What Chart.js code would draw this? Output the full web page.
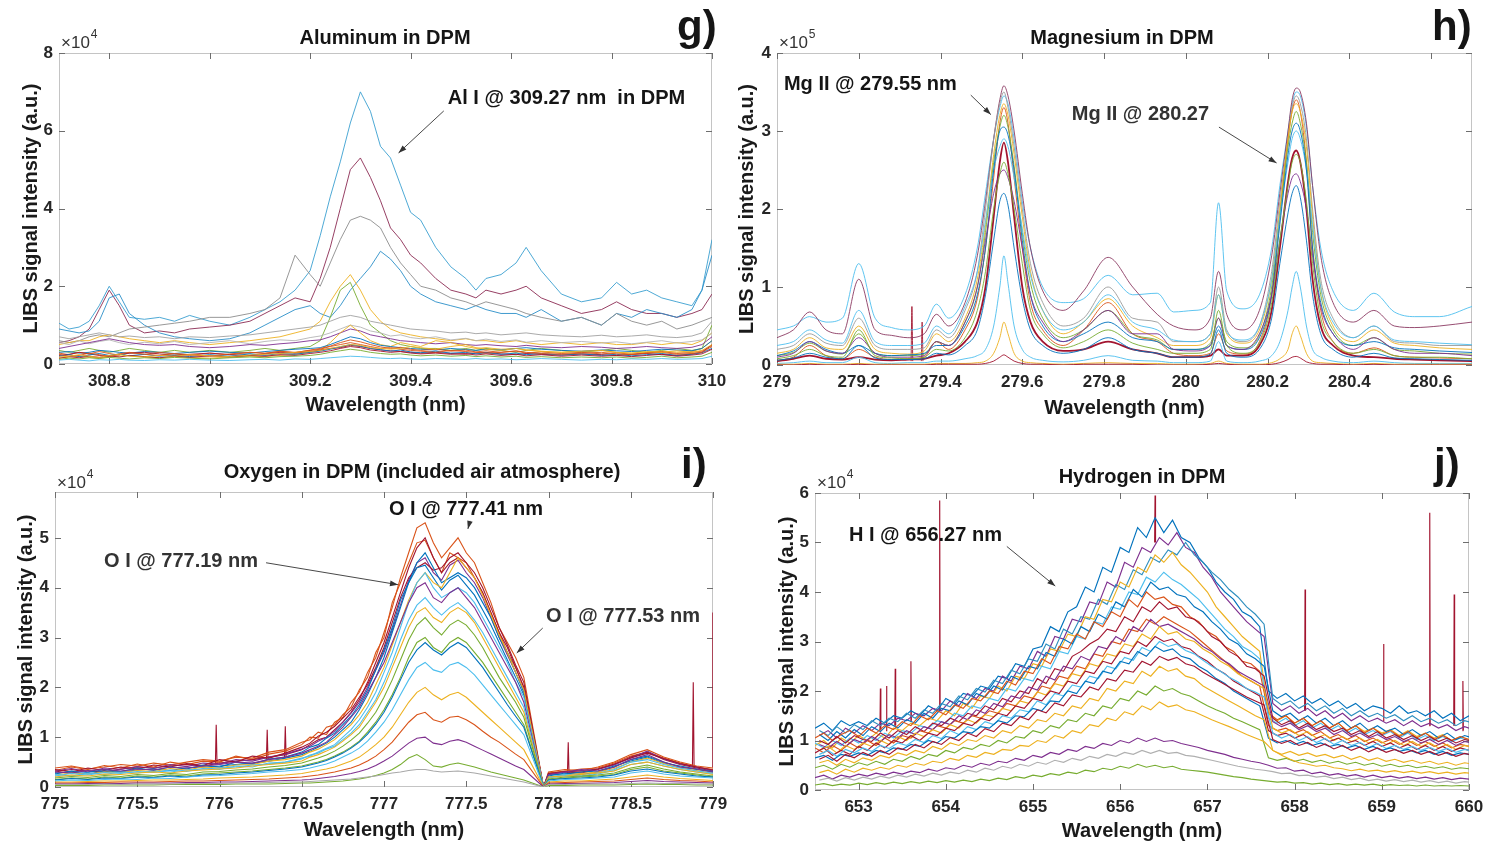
<!DOCTYPE html>
<html>
<head>
<meta charset="utf-8">
<script src="https://cdn.jsdelivr.net/npm/chart.js@4.4.1/dist/chart.umd.min.js"></script>
<style>
  html, body { margin: 0; padding: 0; background: #fff; }
  #fig { position: relative; width: 1499px; height: 843px; overflow: hidden; background: #fff; }
  #fig canvas { position: absolute; }
</style>
</head>
<body>
<div id="fig">
  <canvas id="cg" width="740" height="430" style="left:0;top:0"></canvas>
  <canvas id="ch" width="779" height="430" style="left:720px;top:0"></canvas>
  <canvas id="ci" width="740" height="413" style="left:0;top:430px"></canvas>
  <canvas id="cj" width="759" height="413" style="left:740px;top:430px"></canvas>
</div>
<script>
// all intensities are in the units shown by the axis multiplier (x10^4 or x10^5)

// ---- g) Aluminum in DPM ----
const gWave = [308.70,308.72,308.74,308.76,308.78,308.80,308.82,308.84,308.87,308.90,
  308.93,308.96,309.00,309.04,309.08,309.11,309.14,309.17,309.20,309.22,
  309.24,309.26,309.28,309.30,309.32,309.34,309.36,309.38,309.40,309.42,
  309.45,309.48,309.51,309.53,309.55,309.58,309.61,309.63,309.66,309.70,
  309.74,309.78,309.81,309.84,309.87,309.90,309.93,309.96,309.98,310.00];
const gTop = [1.05,0.9,0.95,1.1,1.5,2.0,1.6,1.2,1.15,1.2,
  1.1,1.25,1.1,1.0,1.2,1.4,1.6,1.9,2.4,3.3,
  4.3,5.2,6.2,7.0,6.5,5.6,5.3,4.6,3.9,3.7,
  3.0,2.5,2.2,1.9,2.2,2.3,2.6,3.0,2.4,1.8,
  1.6,1.7,2.1,1.8,1.9,1.7,1.6,1.5,1.9,3.2];
const gSecond = [0.55,0.6,0.7,0.9,1.4,1.9,1.5,1.0,0.8,0.85,
  0.8,0.9,0.95,1.0,1.1,1.3,1.5,1.7,1.6,2.2,
  3.0,4.0,5.0,5.3,4.8,4.2,3.5,3.2,2.8,2.6,
  2.2,1.9,1.8,1.7,1.9,1.8,1.9,2.0,1.7,1.5,
  1.3,1.4,1.6,1.4,1.3,1.3,1.2,1.3,1.4,1.8];
const gThird = [0.6,0.55,0.6,0.7,0.75,0.7,0.8,0.9,0.95,1.0,
  1.05,1.1,1.2,1.2,1.3,1.4,1.7,2.8,2.3,2.0,
  2.6,3.2,3.7,3.8,3.7,3.5,3.0,2.6,2.3,2.0,
  1.9,1.7,1.6,1.5,1.6,1.5,1.4,1.3,1.2,1.1,
  1.2,1.0,1.3,1.1,1.0,1.1,0.9,1.0,1.1,1.2];
const gFourth = [0.9,0.85,0.8,0.85,1.1,1.7,1.8,1.3,1.0,0.8,
  0.7,0.65,0.6,0.65,0.8,1.0,1.2,1.4,1.5,1.3,
  1.2,1.5,1.9,2.2,2.5,2.9,2.7,2.4,2.0,1.8,
  1.6,1.5,1.4,1.5,1.4,1.3,1.3,1.2,1.4,1.1,
  1.2,1.0,1.3,1.2,1.4,1.3,1.2,1.4,1.9,2.8];
const gNarrowA = [0.5,0.55,0.6,0.6,0.7,0.75,0.7,0.65,0.6,0.55,
  0.6,0.55,0.5,0.55,0.6,0.65,0.7,0.8,0.9,1.1,
  1.6,2.0,2.3,1.9,1.4,1.1,0.9,0.8,0.75,0.7,
  0.65,0.6,0.65,0.6,0.6,0.55,0.6,0.55,0.5,0.55,
  0.5,0.55,0.5,0.5,0.55,0.5,0.55,0.5,0.6,0.8];
const gNarrowB = [0.35,0.3,0.35,0.4,0.35,0.3,0.35,0.4,0.35,0.3,
  0.35,0.3,0.35,0.3,0.35,0.4,0.35,0.4,0.45,0.6,
  1.2,1.9,2.1,1.5,1.0,0.8,0.6,0.5,0.45,0.4,
  0.4,0.35,0.4,0.35,0.4,0.35,0.3,0.35,0.4,0.35,
  0.3,0.35,0.4,0.35,0.3,0.35,0.4,0.35,0.4,1.0];
const gMid = [0.7,0.65,0.7,0.75,0.8,0.75,0.7,0.72,0.68,0.7,
  0.65,0.7,0.68,0.72,0.75,0.8,0.85,0.9,0.95,1.0,
  1.1,1.2,1.25,1.2,1.1,1.05,1.0,0.95,0.9,0.88,
  0.85,0.8,0.82,0.78,0.8,0.75,0.78,0.8,0.75,0.72,
  0.7,0.74,0.7,0.72,0.75,0.7,0.68,0.72,0.8,1.1];
const gLowA = [0.25,0.2,0.22,0.28,0.24,0.2,0.26,0.3,0.25,0.22,
  0.27,0.24,0.2,0.26,0.3,0.28,0.32,0.3,0.35,0.38,
  0.45,0.5,0.55,0.5,0.45,0.4,0.42,0.38,0.35,0.33,
  0.3,0.35,0.32,0.3,0.28,0.3,0.34,0.3,0.27,0.25,
  0.28,0.3,0.26,0.24,0.28,0.3,0.25,0.27,0.3,0.45];
const gLowB = [0.3,0.32,0.28,0.3,0.35,0.33,0.3,0.28,0.32,0.3,
  0.27,0.3,0.33,0.3,0.28,0.32,0.35,0.38,0.4,0.42,
  0.5,0.6,0.7,0.65,0.55,0.48,0.45,0.42,0.4,0.38,
  0.36,0.4,0.37,0.35,0.38,0.36,0.4,0.42,0.38,0.35,
  0.33,0.36,0.34,0.32,0.35,0.38,0.36,0.34,0.4,0.6];
const gLowC = [0.18,0.2,0.24,0.2,0.17,0.22,0.25,0.2,0.18,0.22,
  0.2,0.24,0.21,0.19,0.23,0.25,0.27,0.3,0.32,0.35,
  0.4,0.45,0.5,0.48,0.42,0.4,0.38,0.4,0.45,0.42,
  0.38,0.45,0.5,0.42,0.38,0.35,0.4,0.36,0.32,0.3,
  0.33,0.35,0.3,0.28,0.32,0.3,0.34,0.3,0.35,0.5];
const gLowD = [0.4,0.45,0.5,0.55,0.6,0.65,0.6,0.55,0.5,0.48,
  0.5,0.45,0.42,0.45,0.5,0.48,0.52,0.55,0.6,0.62,
  0.7,0.8,0.9,0.85,0.75,0.7,0.65,0.6,0.58,0.55,
  0.52,0.55,0.5,0.48,0.5,0.47,0.45,0.48,0.44,0.42,
  0.45,0.43,0.4,0.42,0.45,0.42,0.4,0.43,0.5,0.7];
const gLowE = [0.1,0.12,0.1,0.08,0.11,0.1,0.12,0.1,0.09,0.11,
  0.1,0.12,0.1,0.09,0.11,0.12,0.1,0.13,0.12,0.14,
  0.16,0.18,0.2,0.19,0.17,0.15,0.14,0.15,0.13,0.12,
  0.14,0.13,0.12,0.14,0.12,0.13,0.11,0.12,0.14,0.12,
  0.1,0.12,0.11,0.13,0.12,0.14,0.12,0.13,0.14,0.2];
const gLowF = [0.22,0.25,0.3,0.26,0.22,0.2,0.24,0.28,0.3,0.26,
  0.22,0.25,0.28,0.24,0.22,0.26,0.3,0.28,0.32,0.36,
  0.4,0.42,0.48,0.45,0.4,0.36,0.34,0.32,0.3,0.28,
  0.3,0.27,0.25,0.28,0.3,0.26,0.24,0.27,0.25,0.23,
  0.26,0.24,0.22,0.25,0.27,0.24,0.22,0.26,0.3,0.5];
const gLowG = [0.15,0.18,0.2,0.17,0.15,0.18,0.2,0.22,0.18,0.16,
  0.19,0.17,0.15,0.18,0.2,0.19,0.22,0.25,0.3,0.35,
  0.55,0.8,1.0,0.8,0.6,0.5,0.45,0.55,0.5,0.45,
  0.6,0.55,0.45,0.4,0.42,0.38,0.4,0.36,0.33,0.3,
  0.32,0.35,0.3,0.28,0.3,0.33,0.3,0.32,0.4,0.6];
const gLowH = [0.2,0.24,0.19,0.23,0.27,0.22,0.26,0.21,0.25,0.2,
  0.23,0.19,0.24,0.2,0.26,0.22,0.27,0.25,0.3,0.33,
  0.38,0.44,0.5,0.46,0.4,0.37,0.33,0.36,0.31,0.29,
  0.33,0.28,0.3,0.26,0.29,0.25,0.28,0.24,0.27,0.23,
  0.26,0.22,0.25,0.21,0.24,0.27,0.22,0.25,0.29,0.4];
const gLowI = [0.28,0.24,0.3,0.26,0.32,0.27,0.23,0.29,0.25,0.3,
  0.26,0.22,0.28,0.24,0.3,0.27,0.33,0.29,0.36,0.4,
  0.46,0.55,0.62,0.57,0.5,0.44,0.4,0.43,0.38,0.35,
  0.38,0.33,0.36,0.31,0.34,0.3,0.33,0.28,0.31,0.27,
  0.3,0.26,0.29,0.25,0.28,0.32,0.27,0.3,0.33,0.48];
const gLowJ = [0.15,0.19,0.16,0.2,0.17,0.21,0.18,0.22,0.19,0.16,
  0.2,0.17,0.21,0.18,0.22,0.2,0.24,0.22,0.27,0.3,
  0.34,0.4,0.45,0.42,0.36,0.33,0.3,0.32,0.28,0.26,
  0.28,0.25,0.27,0.23,0.26,0.22,0.25,0.21,0.24,0.2,
  0.23,0.2,0.22,0.19,0.22,0.25,0.2,0.23,0.26,0.38];
const gLowK = [0.55,0.5,0.6,0.52,0.58,0.62,0.55,0.5,0.56,0.52,
  0.58,0.5,0.55,0.6,0.52,0.58,0.62,0.6,0.68,0.72,
  0.8,0.9,1.0,0.95,0.85,0.8,0.72,0.75,0.68,0.65,
  0.7,0.62,0.66,0.6,0.64,0.58,0.62,0.56,0.6,0.55,
  0.58,0.54,0.57,0.52,0.56,0.6,0.54,0.58,0.62,0.8];
const gLowL = [0.12,0.15,0.13,0.16,0.14,0.17,0.15,0.13,0.16,0.14,
  0.17,0.15,0.13,0.16,0.18,0.16,0.19,0.2,0.22,0.25,
  0.3,0.34,0.38,0.35,0.3,0.27,0.25,0.26,0.23,0.21,
  0.23,0.2,0.22,0.19,0.21,0.18,0.2,0.17,0.19,0.16,
  0.18,0.16,0.18,0.15,0.17,0.2,0.16,0.18,0.2,0.3];
const gXTicks = [308.8, 309, 309.2, 309.4, 309.6, 309.8, 310];
const gYTicks = [0, 2, 4, 6, 8];

// ---- h) Magnesium in DPM ----
const hWave = [279.00,279.04,279.08,279.12,279.16,279.20,279.24,279.28,279.32,279.36,
  279.39,279.42,279.46,279.49,279.51,279.53,279.545,279.555,279.565,279.58,
  279.60,279.62,279.65,279.70,279.75,279.81,279.87,279.93,279.97,280.02,
  280.06,280.08,280.10,280.14,280.18,280.21,280.23,280.25,280.26,280.27,
  280.28,280.295,280.31,280.33,280.36,280.41,280.46,280.51,280.56,280.62,
  280.70];
const hHighBase = [0.45,0.5,0.62,0.55,0.6,1.3,0.6,0.48,0.45,0.5,
  0.78,0.6,0.9,1.5,2.2,2.9,3.3,3.45,3.35,2.9,
  2.1,1.5,1.0,0.8,0.85,1.15,0.9,0.92,0.68,0.7,
  0.8,2.08,0.95,0.72,0.9,1.5,2.3,3.0,3.35,3.5,
  3.45,3.05,2.3,1.5,0.95,0.7,0.92,0.68,0.62,0.62,
  0.75];
const hSecondBase = [0.35,0.45,0.68,0.45,0.4,1.1,0.45,0.38,0.35,0.4,
  0.65,0.5,0.8,1.4,2.1,2.9,3.4,3.58,3.45,3.0,
  2.2,1.5,0.95,0.7,0.95,1.38,1.0,0.65,0.5,0.45,
  0.6,1.2,0.65,0.45,0.7,1.4,2.2,3.0,3.4,3.55,
  3.5,3.1,2.3,1.4,0.8,0.55,0.7,0.5,0.48,0.5,
  0.55];
const hCore = [0.05,0.08,0.12,0.08,0.07,0.1,0.07,0.06,0.07,0.08,
  0.12,0.15,0.3,0.55,1.0,1.9,2.6,2.85,2.6,1.9,
  1.0,0.55,0.3,0.18,0.2,0.3,0.2,0.15,0.1,0.1,
  0.12,0.2,0.12,0.12,0.25,0.7,1.5,2.35,2.65,2.75,
  2.6,2.0,1.1,0.5,0.25,0.12,0.1,0.08,0.07,0.06,
  0.05];
const hBlue = [0.12,0.18,0.3,0.2,0.15,0.25,0.15,0.12,0.13,0.15,
  0.25,0.25,0.5,0.9,1.5,2.5,3.0,3.05,2.95,2.5,
  1.6,0.9,0.5,0.3,0.4,0.55,0.35,0.3,0.2,0.2,
  0.25,0.5,0.25,0.2,0.35,0.9,1.8,2.7,3.0,3.1,
  3.0,2.5,1.5,0.8,0.4,0.25,0.3,0.22,0.2,0.18,
  0.16];
const hYellow = [0.15,0.2,0.35,0.22,0.2,0.5,0.2,0.15,0.14,0.18,
  0.4,0.3,0.6,1.1,1.8,2.7,3.2,3.35,3.2,2.7,
  1.9,1.2,0.7,0.4,0.55,0.85,0.5,0.35,0.25,0.25,
  0.35,0.9,0.4,0.28,0.45,1.1,2.0,2.9,3.25,3.35,
  3.25,2.8,1.9,1.0,0.5,0.3,0.45,0.28,0.25,0.22,
  0.2];
const hGreen = [0.08,0.12,0.2,0.12,0.1,0.45,0.12,0.09,0.08,0.1,
  0.2,0.18,0.35,0.7,1.2,2.0,2.45,2.6,2.45,2.0,
  1.3,0.7,0.4,0.22,0.3,0.45,0.28,0.2,0.15,0.15,
  0.2,0.7,0.25,0.15,0.28,0.8,1.6,2.3,2.6,2.7,
  2.6,2.1,1.3,0.6,0.3,0.15,0.2,0.12,0.1,0.1,
  0.08];
const hOrange = [0.06,0.1,0.25,0.12,0.08,0.2,0.1,0.07,0.08,0.1,
  0.3,0.2,0.45,0.85,1.5,2.4,3.1,3.3,3.1,2.4,
  1.5,0.8,0.45,0.25,0.45,0.8,0.4,0.3,0.15,0.12,
  0.15,0.4,0.18,0.14,0.3,0.9,1.9,2.9,3.25,3.4,
  3.25,2.6,1.5,0.7,0.3,0.15,0.22,0.12,0.1,0.09,
  0.08];
const hNarrowCyan = [0.02,0.03,0.05,0.03,0.03,0.1,0.03,0.02,0.03,0.03,
  0.05,0.05,0.08,0.12,0.2,0.5,1.0,1.4,1.05,0.5,
  0.2,0.1,0.06,0.04,0.06,0.12,0.06,0.05,0.03,0.03,
  0.05,0.3,0.05,0.03,0.05,0.12,0.3,0.7,1.0,1.2,
  1.0,0.5,0.2,0.1,0.05,0.03,0.05,0.03,0.02,0.02,
  0.02];
const hNarrowYellow = [0.01,0.01,0.02,0.01,0.01,0.02,0.01,0.01,0.01,0.01,
  0.02,0.02,0.02,0.03,0.05,0.15,0.35,0.55,0.4,0.15,
  0.05,0.03,0.02,0.01,0.02,0.03,0.02,0.02,0.01,0.01,
  0.02,0.05,0.02,0.01,0.01,0.03,0.08,0.2,0.4,0.5,
  0.38,0.15,0.05,0.03,0.02,0.01,0.02,0.01,0.01,0.01,
  0.01];
const hNarrowBrown = [0,0,0.01,0,0,0.01,0,0,0,0,
  0.01,0.01,0.01,0.01,0.02,0.05,0.1,0.13,0.1,0.05,
  0.02,0.01,0.01,0,0.01,0.01,0.01,0,0,0,
  0.01,0.02,0.01,0,0,0.01,0.03,0.07,0.1,0.11,
  0.09,0.04,0.02,0.01,0.01,0,0.01,0,0,0,
  0];
const hPurple = [0.1,0.15,0.3,0.18,0.15,0.35,0.15,0.1,0.1,0.12,
  0.3,0.25,0.55,1.0,1.6,2.2,2.45,2.5,2.4,2.1,
  1.5,0.9,0.55,0.3,0.45,0.7,0.4,0.4,0.2,0.18,
  0.25,0.6,0.25,0.2,0.4,0.9,1.6,2.2,2.4,2.45,
  2.35,2.0,1.4,0.75,0.4,0.2,0.35,0.2,0.15,0.15,
  0.12];
const hGray = [0.2,0.25,0.4,0.28,0.25,0.6,0.25,0.2,0.2,0.22,
  0.45,0.35,0.7,1.2,2.0,2.9,3.35,3.5,3.3,2.8,
  2.0,1.3,0.8,0.5,0.6,1.0,0.6,0.55,0.3,0.3,
  0.4,1.0,0.45,0.3,0.5,1.2,2.1,2.9,3.3,3.45,
  3.35,2.9,2.0,1.1,0.6,0.35,0.5,0.3,0.28,0.25,
  0.25];
const hExtraGreen = [0.12,0.16,0.28,0.18,0.14,0.4,0.15,0.12,0.12,0.14,
  0.3,0.25,0.55,1.0,1.7,2.6,3.05,3.2,3.05,2.55,
  1.7,1.05,0.6,0.35,0.45,0.7,0.4,0.32,0.2,0.2,
  0.28,0.6,0.3,0.22,0.38,1.0,1.9,2.8,3.1,3.25,
  3.1,2.6,1.7,0.9,0.45,0.25,0.35,0.2,0.18,0.15,
  0.14];
const hExtraCyan = [0.25,0.3,0.45,0.32,0.28,0.7,0.3,0.25,0.25,0.28,
  0.5,0.4,0.75,1.2,1.85,2.5,2.8,2.9,2.8,2.4,
  1.75,1.15,0.7,0.45,0.55,0.9,0.55,0.45,0.32,0.3,
  0.4,0.9,0.42,0.32,0.5,1.1,1.9,2.6,2.9,3.0,
  2.9,2.5,1.8,1.0,0.55,0.35,0.5,0.32,0.3,0.28,
  0.26];
const hExtraBlue = [0.06,0.09,0.15,0.1,0.08,0.25,0.09,0.07,0.07,0.08,
  0.15,0.13,0.25,0.45,0.9,1.6,2.1,2.2,2.05,1.5,
  0.85,0.45,0.25,0.15,0.2,0.35,0.2,0.15,0.1,0.1,
  0.14,0.45,0.15,0.1,0.2,0.6,1.3,1.95,2.2,2.3,
  2.15,1.6,0.9,0.4,0.2,0.1,0.15,0.09,0.08,0.07,
  0.06];
const hSpikeWave = [279.328,279.33,279.332,279.334,279.353,279.355,279.357];
const hSpikeVal = [0.05,0.75,0.05,null,0.05,0.55,0.05];
const hXTicks = [279, 279.2, 279.4, 279.6, 279.8, 280, 280.2, 280.4, 280.6];
const hYTicks = [0, 1, 2, 3, 4];

// ---- i) Oxygen in DPM ----
const iWave = [775.0,775.1,775.2,775.3,775.4,775.5,775.6,775.7,775.8,775.9,
  776.0,776.1,776.2,776.3,776.4,776.5,776.55,776.6,776.65,776.7,
  776.75,776.8,776.85,776.9,776.95,777.0,777.05,777.1,777.15,777.2,
  777.25,777.3,777.35,777.4,777.45,777.5,777.55,777.6,777.65,777.7,
  777.75,777.8,777.85,777.97,778.0,778.1,778.2,778.3,778.4,778.5,
  778.6,778.7,778.8,778.9,779.0];
const iRed = [0.38,0.42,0.36,0.4,0.45,0.42,0.48,0.44,0.5,0.55,
  0.52,0.6,0.58,0.7,0.75,0.9,0.95,1.1,1.05,1.3,
  1.4,1.7,1.9,2.3,2.6,3.1,3.6,4.2,4.7,5.2,
  5.3,4.9,4.6,4.8,5.0,4.7,4.5,4.1,3.7,3.2,
  2.9,2.6,2.2,0,0.3,0.35,0.32,0.4,0.5,0.65,
  0.75,0.6,0.5,0.42,0.38];
const iDarkRed = [0.3,0.35,0.32,0.3,0.36,0.4,0.38,0.42,0.45,0.42,
  0.48,0.52,0.55,0.6,0.65,0.75,0.85,0.95,1.0,1.15,
  1.3,1.5,1.75,2.1,2.5,2.9,3.4,3.9,4.4,4.8,
  5.0,4.6,4.3,4.5,4.6,4.4,4.2,3.9,3.5,3.1,
  2.8,2.4,2.0,0,0.25,0.3,0.28,0.35,0.45,0.6,
  0.7,0.55,0.45,0.38,0.32];
const iBlue = [0.28,0.3,0.26,0.32,0.3,0.34,0.36,0.33,0.38,0.4,
  0.42,0.45,0.48,0.52,0.58,0.65,0.72,0.8,0.88,1.0,
  1.15,1.3,1.55,1.85,2.2,2.6,3.1,3.6,4.1,4.5,
  4.7,4.4,4.1,4.2,4.3,4.2,4.0,3.7,3.4,3.0,
  2.7,2.3,1.9,0,0.22,0.28,0.25,0.3,0.4,0.55,
  0.62,0.5,0.4,0.35,0.3];
const iCyan = [0.25,0.22,0.28,0.25,0.3,0.28,0.32,0.3,0.34,0.36,
  0.38,0.4,0.44,0.46,0.5,0.58,0.62,0.7,0.78,0.85,
  1.0,1.15,1.35,1.6,1.9,2.3,2.7,3.2,3.7,4.1,
  4.3,4.0,3.8,3.9,4.0,3.9,3.7,3.4,3.1,2.8,
  2.5,2.1,1.8,0,0.2,0.25,0.22,0.28,0.35,0.5,
  0.55,0.45,0.38,0.32,0.28];
const iPurple = [0.3,0.28,0.33,0.35,0.32,0.36,0.34,0.4,0.38,0.42,
  0.45,0.5,0.48,0.55,0.6,0.68,0.75,0.82,0.9,1.05,
  1.2,1.4,1.6,1.9,2.2,2.5,2.9,3.3,3.7,4.0,
  4.1,3.8,3.7,3.9,4.0,3.8,3.6,3.3,3.0,2.7,
  2.4,2.1,1.7,0,0.25,0.3,0.35,0.32,0.4,0.55,
  0.65,0.5,0.4,0.36,0.3];
const iYellow = [0.2,0.24,0.22,0.26,0.25,0.28,0.3,0.28,0.32,0.34,
  0.36,0.38,0.42,0.45,0.48,0.52,0.6,0.65,0.72,0.8,
  0.92,1.05,1.2,1.45,1.7,2.0,2.4,2.8,3.2,3.5,
  3.6,3.4,3.3,3.5,3.6,3.5,3.3,3.0,2.7,2.4,
  2.1,1.8,1.5,0,0.2,0.22,0.25,0.28,0.32,0.45,
  0.5,0.42,0.35,0.3,0.25];
const iGreen = [0.15,0.18,0.16,0.2,0.18,0.22,0.2,0.24,0.22,0.26,
  0.28,0.3,0.32,0.35,0.38,0.42,0.46,0.5,0.55,0.62,
  0.7,0.8,0.92,1.1,1.3,1.55,1.85,2.2,2.6,2.9,
  3.0,2.8,2.7,2.9,3.0,2.9,2.7,2.5,2.25,2.0,
  1.75,1.5,1.25,0,0.15,0.18,0.2,0.22,0.25,0.35,
  0.4,0.32,0.28,0.24,0.2];
const iLightBlue = [0.12,0.14,0.13,0.15,0.16,0.15,0.18,0.17,0.2,0.22,
  0.23,0.25,0.27,0.3,0.32,0.35,0.38,0.42,0.46,0.52,
  0.6,0.68,0.78,0.92,1.1,1.3,1.55,1.85,2.15,2.4,
  2.5,2.35,2.3,2.45,2.5,2.4,2.25,2.05,1.85,1.65,
  1.45,1.25,1.05,0,0.12,0.15,0.16,0.18,0.2,0.28,
  0.32,0.26,0.22,0.2,0.18];
const iPaleYellow = [0.1,0.1,0.11,0.12,0.12,0.13,0.14,0.14,0.15,0.16,
  0.18,0.19,0.2,0.22,0.24,0.27,0.3,0.33,0.36,0.4,
  0.46,0.52,0.6,0.72,0.85,1.0,1.2,1.45,1.7,1.9,
  2.0,1.85,1.75,1.85,1.9,1.8,1.65,1.5,1.35,1.2,
  1.05,0.9,0.75,0,0.1,0.12,0.12,0.14,0.16,0.2,
  0.24,0.2,0.17,0.15,0.13];
const iLowOrange = [0.08,0.08,0.09,0.09,0.1,0.1,0.1,0.11,0.12,0.12,
  0.13,0.14,0.15,0.16,0.18,0.2,0.22,0.24,0.27,0.3,
  0.34,0.38,0.44,0.52,0.62,0.75,0.9,1.1,1.3,1.45,
  1.5,1.35,1.3,1.4,1.42,1.35,1.25,1.12,1.0,0.9,
  0.78,0.66,0.55,0,0.08,0.09,0.1,0.11,0.12,0.15,
  0.18,0.15,0.13,0.12,0.1];
const iLowPurple = [0.06,0.06,0.07,0.07,0.07,0.08,0.08,0.08,0.09,0.09,
  0.1,0.1,0.11,0.12,0.13,0.14,0.15,0.17,0.19,0.21,
  0.24,0.27,0.31,0.36,0.43,0.52,0.62,0.75,0.88,0.98,
  1.0,0.88,0.85,0.92,0.95,0.9,0.82,0.74,0.66,0.58,
  0.5,0.42,0.35,0,0.06,0.07,0.07,0.08,0.09,0.11,
  0.13,0.11,0.1,0.09,0.08];
const iLowGreen = [0.03,0.03,0.03,0.04,0.04,0.04,0.04,0.05,0.05,0.05,
  0.05,0.06,0.06,0.06,0.07,0.08,0.08,0.09,0.1,0.11,
  0.12,0.14,0.16,0.19,0.23,0.28,0.35,0.45,0.58,0.65,
  0.55,0.42,0.4,0.45,0.48,0.44,0.4,0.35,0.3,0.26,
  0.22,0.18,0.14,0,0.03,0.03,0.04,0.04,0.04,0.05,
  0.06,0.05,0.05,0.04,0.04];
const iLowGray = [0.05,0.05,0.05,0.06,0.05,0.06,0.06,0.06,0.07,0.07,
  0.07,0.08,0.08,0.09,0.1,0.1,0.11,0.12,0.13,0.14,
  0.15,0.16,0.18,0.2,0.22,0.25,0.28,0.3,0.33,0.35,
  0.35,0.32,0.3,0.31,0.32,0.3,0.28,0.25,0.22,0.19,
  0.16,0.13,0.1,0,0.05,0.05,0.06,0.06,0.06,0.07,
  0.08,0.07,0.07,0.06,0.06];
const iBandOrange = [0.33,0.4,0.35,0.43,0.38,0.46,0.4,0.5,0.45,0.52,
  0.5,0.62,0.55,0.66,0.72,0.85,1.0,0.98,1.2,1.25,
  1.45,1.6,1.95,2.2,2.7,3.0,3.7,4.1,4.5,4.9,
  4.95,4.6,4.3,4.7,4.6,4.5,4.2,3.9,3.5,3.1,
  2.7,2.4,2.0,0,0.28,0.32,0.36,0.38,0.48,0.62,
  0.7,0.58,0.48,0.4,0.35];
const iBandBlue = [0.26,0.32,0.29,0.35,0.31,0.38,0.33,0.4,0.36,0.44,
  0.4,0.5,0.46,0.56,0.6,0.7,0.8,0.85,0.98,1.08,
  1.25,1.42,1.65,1.95,2.35,2.75,3.2,3.75,4.1,4.4,
  4.45,4.2,3.95,4.15,4.25,4.05,3.85,3.55,3.25,2.9,
  2.55,2.2,1.85,0,0.24,0.26,0.3,0.32,0.42,0.52,
  0.6,0.48,0.42,0.36,0.31];
const iBandRed = [0.35,0.3,0.38,0.33,0.4,0.36,0.44,0.4,0.47,0.43,
  0.55,0.5,0.62,0.58,0.68,0.8,0.88,1.02,1.1,1.22,
  1.38,1.55,1.8,2.05,2.4,2.8,3.3,3.8,4.2,4.4,
  4.5,4.35,4.4,4.6,4.7,4.5,4.3,4.0,3.6,3.2,
  2.85,2.45,2.1,0,0.27,0.31,0.3,0.36,0.46,0.58,
  0.68,0.57,0.47,0.4,0.34];
const iBandCyan = [0.22,0.27,0.24,0.29,0.27,0.31,0.29,0.34,0.31,0.37,
  0.35,0.42,0.4,0.48,0.5,0.56,0.64,0.68,0.76,0.82,
  0.95,1.08,1.25,1.5,1.75,2.1,2.5,2.95,3.35,3.65,
  3.8,3.6,3.45,3.6,3.7,3.55,3.35,3.1,2.8,2.5,
  2.2,1.9,1.6,0,0.18,0.23,0.21,0.26,0.33,0.45,
  0.5,0.42,0.35,0.3,0.26];
const iBandYellow = [0.24,0.28,0.26,0.3,0.29,0.33,0.31,0.37,0.34,0.4,
  0.38,0.44,0.45,0.52,0.55,0.62,0.7,0.76,0.85,0.95,
  1.1,1.25,1.45,1.7,2.05,2.4,2.85,3.3,3.75,4.1,
  4.3,4.1,4.0,4.3,4.6,4.4,4.2,3.85,3.45,3.05,
  2.7,2.3,1.95,0,0.2,0.24,0.27,0.3,0.37,0.5,
  0.58,0.47,0.38,0.33,0.28];
const iBandGreen = [0.18,0.21,0.19,0.23,0.21,0.25,0.23,0.27,0.25,0.3,
  0.31,0.34,0.36,0.4,0.43,0.48,0.53,0.58,0.64,0.72,
  0.82,0.94,1.08,1.28,1.5,1.8,2.15,2.55,2.95,3.25,
  3.4,3.2,3.05,3.25,3.35,3.25,3.05,2.8,2.5,2.2,
  1.95,1.7,1.4,0,0.16,0.2,0.22,0.24,0.28,0.38,
  0.44,0.36,0.3,0.26,0.22];
const iBandPurple = [0.32,0.37,0.3,0.38,0.35,0.41,0.37,0.45,0.41,0.48,
  0.46,0.55,0.52,0.6,0.66,0.76,0.82,0.92,1.0,1.12,
  1.3,1.48,1.7,2.0,2.35,2.7,3.15,3.65,4.15,4.5,
  4.6,4.3,4.15,4.45,4.55,4.3,4.1,3.8,3.4,3.0,
  2.65,2.3,1.95,0,0.26,0.3,0.33,0.36,0.44,0.58,
  0.72,0.56,0.46,0.4,0.33];
const iBandLowBlue = [0.14,0.17,0.15,0.18,0.17,0.2,0.19,0.22,0.2,0.24,
  0.25,0.28,0.3,0.33,0.36,0.4,0.44,0.48,0.53,0.6,
  0.68,0.78,0.9,1.06,1.26,1.5,1.8,2.15,2.5,2.75,
  2.9,2.75,2.65,2.8,2.9,2.8,2.6,2.4,2.15,1.9,
  1.65,1.42,1.2,0,0.14,0.17,0.18,0.2,0.24,0.32,
  0.36,0.3,0.26,0.22,0.2];
const iSpikeWave = [775.975,775.98,775.985,775.99, 776.285,776.29,776.295,776.3,
  776.395,776.4,776.405,776.41, 778.115,778.12,778.125,778.13,
  778.875,778.88,778.885,778.89, 778.995,778.999];
const iSpikeVal = [0.45,1.25,0.45,null, 0.55,1.15,0.55,null,
  0.6,1.22,0.6,null, 0.25,0.9,0.25,null,
  0.4,2.1,0.4,null, 0.4,3.5];
const iXTicks = [775, 775.5, 776, 776.5, 777, 777.5, 778, 778.5, 779];
const iYTicks = [0, 1, 2, 3, 4, 5];

// ---- j) Hydrogen in DPM ----
const jWave = [652.5,652.6,652.7,652.8,652.9,653.0,653.1,653.2,653.3,653.4,
  653.5,653.6,653.7,653.8,653.9,654.0,654.1,654.2,654.3,654.4,
  654.5,654.6,654.7,654.8,654.9,655.0,655.1,655.2,655.3,655.4,
  655.5,655.6,655.7,655.8,655.9,656.0,656.1,656.2,656.3,656.4,
  656.5,656.6,656.7,656.8,656.9,657.0,657.1,657.2,657.3,657.4,
  657.5,657.6,657.7,657.8,657.9,658.0,658.1,658.2,658.3,658.4,
  658.5,658.6,658.7,658.8,658.9,659.0,659.1,659.2,659.3,659.4,
  659.5,659.6,659.7,659.8,659.9,660.0];
// second set of spectra, read between the first grid's points
const jWaveMid = [652.55,652.65,652.75,652.85,652.95,653.05,653.15,653.25,653.35,653.45,
  653.55,653.65,653.75,653.85,653.95,654.05,654.15,654.25,654.35,654.45,
  654.55,654.65,654.75,654.85,654.95,655.05,655.15,655.25,655.35,655.45,
  655.55,655.65,655.75,655.85,655.95,656.05,656.15,656.25,656.35,656.45,
  656.55,656.65,656.75,656.85,656.95,657.05,657.15,657.25,657.35,657.45,
  657.55,657.65,657.75,657.85,657.95,658.05,658.15,658.25,658.35,658.45,
  658.55,658.65,658.75,658.85,658.95,659.05,659.15,659.25,659.35,659.45,
  659.55,659.65,659.75,659.85,659.95,660.05];
const jBlueTop = [1.25,1.35,1.2,1.4,1.3,1.38,1.3,1.45,1.35,1.5,
  1.45,1.6,1.5,1.7,1.6,1.85,1.75,1.95,1.9,2.1,
  2.05,2.3,2.25,2.55,2.5,2.85,2.9,3.3,3.2,3.6,
  3.7,4.1,4.0,4.5,4.4,4.9,4.8,5.3,5.1,5.5,
  5.2,5.45,5.1,5.0,4.7,4.5,4.2,4.0,3.85,3.6,
  3.5,3.3,2.0,1.85,1.95,1.8,1.9,1.75,1.85,1.7,
  1.8,1.65,1.75,1.6,1.7,1.65,1.55,1.7,1.55,1.6,
  1.5,1.6,1.45,1.55,1.4,1.5];
const jPurpleTop = [1.1,1.2,1.05,1.25,1.15,1.3,1.2,1.35,1.3,1.45,
  1.4,1.55,1.5,1.65,1.6,1.8,1.7,1.95,1.85,2.05,
  2.0,2.3,2.2,2.5,2.45,2.8,2.7,3.1,3.05,3.45,
  3.4,3.8,3.75,4.2,4.1,4.6,4.5,4.9,4.8,5.1,
  4.95,5.2,4.9,4.8,4.5,4.3,4.0,3.8,3.6,3.4,
  3.25,3.1,1.75,1.6,1.7,1.55,1.65,1.5,1.6,1.45,
  1.55,1.4,1.5,1.38,1.45,1.35,1.42,1.3,1.4,1.28,
  1.35,1.25,1.32,1.2,1.28,1.22];
const jYellowTop = [0.9,1.0,0.85,1.05,0.95,1.1,1.0,1.15,1.05,1.25,
  1.2,1.35,1.3,1.45,1.4,1.6,1.5,1.75,1.65,1.9,
  1.85,2.1,2.0,2.3,2.25,2.55,2.5,2.85,2.8,3.15,
  3.1,3.5,3.45,3.85,3.8,4.2,4.1,4.5,4.4,4.75,
  4.6,4.8,4.55,4.4,4.2,4.0,3.7,3.5,3.3,3.1,
  2.95,2.8,1.55,1.4,1.5,1.35,1.45,1.3,1.4,1.25,
  1.35,1.2,1.3,1.18,1.25,1.15,1.22,1.1,1.2,1.08,
  1.15,1.05,1.12,1.0,1.08,1.02];
const jCyan = [0.95,0.85,1.0,0.9,1.05,0.95,1.1,1.0,1.15,1.05,
  1.2,1.15,1.3,1.25,1.4,1.35,1.55,1.5,1.7,1.65,
  1.85,1.8,2.05,2.0,2.25,2.2,2.5,2.45,2.8,2.75,
  3.1,3.05,3.4,3.35,3.7,3.65,4.0,3.95,4.3,4.2,
  4.4,4.25,4.15,4.0,3.85,3.65,3.45,3.25,3.1,2.9,
  2.8,2.65,1.45,1.35,1.45,1.3,1.4,1.25,1.35,1.2,
  1.3,1.15,1.25,1.12,1.2,1.1,1.18,1.05,1.15,1.02,
  1.1,1.0,1.08,0.98,1.05,1.0];
const jOrangeCore = [0.85,0.75,0.9,0.8,0.95,0.85,1.0,0.9,1.05,0.95,
  1.1,1.05,1.2,1.15,1.3,1.25,1.4,1.35,1.5,1.45,
  1.6,1.55,1.75,1.7,1.9,1.85,2.1,2.05,2.3,2.25,
  2.5,2.45,2.75,2.7,3.0,2.95,3.25,3.2,3.45,3.35,
  3.5,3.4,3.3,3.2,3.05,2.9,2.75,2.6,2.45,2.3,
  2.2,2.1,1.3,1.2,1.25,1.15,1.22,1.1,1.18,1.05,
  1.12,1.02,1.1,0.98,1.05,0.95,1.02,0.92,1.0,0.9,
  0.98,0.88,0.95,0.85,0.92,0.88];
const jRedCore = [0.75,0.85,0.7,0.8,0.72,0.88,0.8,0.95,0.85,1.0,
  0.95,1.1,1.0,1.15,1.1,1.25,1.2,1.35,1.3,1.45,
  1.4,1.55,1.5,1.7,1.65,1.85,1.8,2.0,1.95,2.2,
  2.15,2.4,2.35,2.6,2.55,2.8,2.75,3.0,2.9,3.1,
  3.0,3.05,2.9,2.85,2.7,2.6,2.45,2.35,2.2,2.1,
  2.0,1.9,1.2,1.1,1.15,1.05,1.12,1.0,1.08,0.98,
  1.05,0.95,1.0,0.9,0.98,0.88,0.95,0.85,0.92,0.82,
  0.9,0.8,0.88,0.78,0.85,0.8];
const jBlueCore = [0.65,0.7,0.6,0.72,0.68,0.75,0.7,0.8,0.75,0.85,
  0.82,0.92,0.88,1.0,0.95,1.08,1.05,1.18,1.15,1.28,
  1.25,1.4,1.35,1.5,1.48,1.65,1.6,1.8,1.78,2.0,
  1.95,2.2,2.15,2.4,2.35,2.6,2.55,2.8,2.7,2.9,
  2.8,2.85,2.7,2.65,2.5,2.4,2.25,2.15,2.0,1.9,
  1.8,1.7,1.05,0.95,1.0,0.92,0.98,0.9,0.95,0.88,
  0.92,0.85,0.9,0.82,0.88,0.8,0.85,0.78,0.82,0.75,
  0.8,0.72,0.78,0.7,0.75,0.72];
const jYellowLow = [0.55,0.6,0.5,0.62,0.55,0.65,0.6,0.7,0.65,0.75,
  0.7,0.8,0.75,0.88,0.82,0.95,0.9,1.02,0.98,1.1,
  1.05,1.2,1.15,1.3,1.25,1.42,1.38,1.55,1.5,1.7,
  1.65,1.85,1.8,2.05,2.0,2.2,2.15,2.4,2.3,2.5,
  2.4,2.45,2.3,2.25,2.1,2.0,1.9,1.8,1.7,1.6,
  1.5,1.42,0.8,0.72,0.78,0.7,0.75,0.68,0.72,0.65,
  0.7,0.62,0.68,0.6,0.65,0.58,0.62,0.56,0.6,0.54,
  0.58,0.52,0.56,0.5,0.55,0.52];
const jGreenLow = [0.45,0.5,0.42,0.52,0.46,0.55,0.5,0.58,0.52,0.62,
  0.58,0.68,0.62,0.72,0.68,0.8,0.75,0.86,0.82,0.92,
  0.88,1.0,0.95,1.08,1.05,1.2,1.15,1.3,1.25,1.42,
  1.38,1.55,1.5,1.7,1.65,1.85,1.8,2.0,1.92,2.1,
  2.0,2.05,1.95,1.9,1.8,1.7,1.62,1.55,1.45,1.38,
  1.3,1.22,0.65,0.6,0.64,0.58,0.62,0.56,0.6,0.54,
  0.58,0.52,0.56,0.5,0.54,0.48,0.52,0.47,0.5,0.45,
  0.48,0.44,0.47,0.42,0.45,0.43];
const jPaleOrange = [0.35,0.4,0.32,0.42,0.36,0.44,0.4,0.46,0.42,0.5,
  0.46,0.54,0.5,0.58,0.55,0.64,0.6,0.7,0.66,0.76,
  0.72,0.82,0.8,0.9,0.88,1.0,0.96,1.1,1.05,1.2,
  1.15,1.32,1.28,1.45,1.4,1.58,1.52,1.7,1.62,1.78,
  1.68,1.72,1.62,1.58,1.5,1.42,1.35,1.28,1.2,1.12,
  1.05,0.98,0.8,0.7,0.62,0.55,0.52,0.48,0.5,0.45,
  0.43,0.39,0.42,0.38,0.4,0.36,0.39,0.35,0.38,0.34,
  0.37,0.33,0.36,0.32,0.35,0.33];
const jPurpleLow = [0.25,0.3,0.22,0.3,0.26,0.32,0.28,0.34,0.3,0.36,
  0.32,0.38,0.35,0.42,0.38,0.45,0.42,0.5,0.46,0.54,
  0.5,0.58,0.55,0.64,0.6,0.7,0.66,0.76,0.72,0.82,
  0.78,0.88,0.84,0.94,0.9,1.0,0.95,1.05,0.98,1.05,
  0.98,1.0,0.94,0.9,0.86,0.8,0.76,0.72,0.66,0.62,
  0.58,0.55,0.5,0.44,0.45,0.38,0.4,0.33,0.36,0.3,
  0.33,0.28,0.31,0.26,0.3,0.25,0.28,0.24,0.27,0.23,
  0.26,0.22,0.25,0.21,0.24,0.22];
const jGrayLow = [0.2,0.24,0.18,0.25,0.2,0.26,0.22,0.28,0.24,0.3,
  0.26,0.32,0.28,0.34,0.3,0.36,0.33,0.4,0.36,0.44,
  0.4,0.48,0.44,0.52,0.48,0.56,0.52,0.6,0.56,0.64,
  0.6,0.68,0.64,0.72,0.68,0.76,0.72,0.8,0.74,0.8,
  0.74,0.76,0.7,0.68,0.64,0.6,0.56,0.52,0.48,0.45,
  0.42,0.4,0.37,0.33,0.34,0.29,0.3,0.26,0.28,0.23,
  0.26,0.21,0.24,0.19,0.22,0.18,0.21,0.17,0.2,0.16,
  0.19,0.15,0.18,0.14,0.17,0.15];
const jGreenBottom = [0.1,0.13,0.09,0.12,0.1,0.14,0.11,0.15,0.12,0.16,
  0.13,0.17,0.14,0.18,0.15,0.19,0.16,0.2,0.17,0.22,
  0.19,0.24,0.21,0.27,0.24,0.3,0.27,0.33,0.3,0.36,
  0.33,0.4,0.37,0.44,0.41,0.48,0.44,0.52,0.46,0.5,
  0.45,0.48,0.42,0.4,0.38,0.36,0.33,0.3,0.27,0.25,
  0.22,0.2,0.18,0.16,0.17,0.14,0.15,0.12,0.14,0.11,
  0.13,0.1,0.12,0.1,0.12,0.09,0.11,0.09,0.1,0.08,
  0.1,0.08,0.09,0.08,0.09,0.08];
const jBandRed = [1.0,0.92,1.08,0.95,1.1,1.02,0.98,1.15,1.05,1.2,
  1.12,1.28,1.18,1.35,1.3,1.45,1.38,1.55,1.5,1.7,
  1.62,1.85,1.78,2.0,1.95,2.25,2.15,2.45,2.4,2.7,
  2.8,2.95,3.05,3.25,3.2,3.5,3.4,3.7,3.6,3.8,
  3.65,3.7,3.5,3.45,3.3,3.1,3.0,2.8,2.7,2.5,
  2.45,2.3,1.45,1.32,1.4,1.25,1.35,1.22,1.3,1.18,
  1.25,1.12,1.2,1.08,1.18,1.05,1.12,1.02,1.1,1.0,
  1.08,0.98,1.05,0.95,1.02,0.98];
const jBandOrange = [1.05,1.15,1.0,1.12,1.2,1.08,1.25,1.15,1.3,1.22,
  1.38,1.3,1.5,1.42,1.6,1.52,1.72,1.65,1.85,1.8,
  2.0,1.95,2.2,2.12,2.4,2.35,2.65,2.55,2.9,2.85,
  3.15,3.05,3.4,3.3,3.6,3.5,3.85,3.7,4.0,3.85,
  3.9,3.75,3.7,3.5,3.4,3.2,3.1,2.9,2.8,2.6,
  2.55,2.4,1.55,1.42,1.5,1.35,1.45,1.3,1.4,1.25,
  1.35,1.2,1.3,1.15,1.25,1.12,1.2,1.08,1.18,1.05,
  1.15,1.02,1.1,1.0,1.08,1.02];
const jBandBlue = [1.12,1.0,1.18,1.05,1.22,1.1,1.28,1.18,1.35,1.25,
  1.42,1.35,1.55,1.45,1.65,1.6,1.8,1.72,1.95,1.88,
  2.1,2.02,2.3,2.22,2.5,2.45,2.78,2.7,3.05,2.95,
  3.3,3.2,3.55,3.45,3.8,3.7,4.05,3.9,4.2,4.05,
  4.1,3.95,3.9,3.7,3.6,3.4,3.25,3.05,2.95,2.75,
  2.65,2.5,1.6,1.48,1.55,1.4,1.5,1.35,1.45,1.3,
  1.4,1.25,1.35,1.2,1.3,1.18,1.25,1.12,1.22,1.1,
  1.18,1.05,1.15,1.02,1.1,1.05];
const jBandYellow = [0.8,0.88,0.75,0.9,0.82,0.95,0.88,1.0,0.92,1.08,
  1.0,1.15,1.08,1.22,1.15,1.32,1.25,1.42,1.35,1.52,
  1.48,1.65,1.6,1.8,1.75,1.98,1.92,2.15,2.1,2.35,
  2.3,2.55,2.5,2.75,2.7,2.95,2.9,3.15,3.05,3.3,
  3.15,3.2,3.05,3.0,2.85,2.75,2.6,2.5,2.35,2.25,
  2.15,2.05,1.25,1.15,1.22,1.1,1.18,1.05,1.12,1.0,
  1.08,0.98,1.05,0.95,1.02,0.92,1.0,0.9,0.98,0.88,
  0.95,0.85,0.92,0.82,0.9,0.86];
const jBandPurple = [0.92,0.85,0.98,0.88,1.02,0.95,1.08,0.98,1.12,1.05,
  1.2,1.12,1.28,1.22,1.38,1.32,1.5,1.42,1.62,1.55,
  1.75,1.68,1.9,1.85,2.08,2.02,2.3,2.22,2.5,2.45,
  2.7,2.62,2.9,2.85,3.1,3.0,3.3,3.2,3.45,3.3,
  3.35,3.25,3.15,3.05,2.9,2.8,2.65,2.55,2.4,2.3,
  2.2,2.1,1.38,1.28,1.35,1.22,1.3,1.18,1.25,1.12,
  1.2,1.08,1.15,1.05,1.12,1.02,1.08,0.98,1.05,0.95,
  1.02,0.92,1.0,0.9,0.98,0.94];
const jBandCyan = [0.72,0.8,0.68,0.82,0.75,0.85,0.78,0.9,0.84,0.95,
  0.9,1.02,0.96,1.1,1.04,1.2,1.12,1.28,1.22,1.38,
  1.32,1.5,1.45,1.62,1.58,1.8,1.72,1.95,1.9,2.12,
  2.08,2.3,2.25,2.5,2.45,2.68,2.62,2.88,2.8,3.0,
  2.9,2.95,2.82,2.75,2.62,2.5,2.4,2.28,2.18,2.05,
  1.98,1.88,1.15,1.05,1.12,1.0,1.08,0.96,1.04,0.92,
  1.0,0.9,0.96,0.86,0.94,0.84,0.9,0.82,0.88,0.8,
  0.86,0.78,0.84,0.76,0.82,0.78];
const jBandDarkRed = [0.62,0.7,0.58,0.72,0.65,0.76,0.68,0.8,0.72,0.85,
  0.8,0.92,0.85,0.98,0.92,1.06,1.0,1.15,1.08,1.24,
  1.18,1.35,1.3,1.48,1.42,1.62,1.56,1.76,1.7,1.92,
  1.88,2.08,2.02,2.25,2.2,2.42,2.38,2.6,2.52,2.7,
  2.62,2.68,2.55,2.5,2.38,2.28,2.18,2.08,1.98,1.88,
  1.8,1.72,1.02,0.94,1.0,0.9,0.96,0.86,0.93,0.83,
  0.9,0.8,0.87,0.77,0.85,0.76,0.82,0.74,0.8,0.72,
  0.78,0.7,0.76,0.68,0.74,0.7];
const jBandTeal = [1.2,1.1,1.28,1.15,1.32,1.22,1.4,1.3,1.45,1.38,
  1.55,1.45,1.62,1.55,1.75,1.68,1.9,1.82,2.05,1.98,
  2.22,2.15,2.42,2.35,2.65,2.6,2.95,2.85,3.25,3.15,
  3.5,3.45,3.85,3.75,4.15,4.05,4.45,4.35,4.7,4.6,
  4.85,4.75,5.0,4.75,4.6,4.4,4.25,4.05,3.9,3.7,
  3.55,3.35,1.85,1.72,1.8,1.65,1.75,1.6,1.7,1.55,
  1.65,1.5,1.6,1.48,1.55,1.45,1.52,1.4,1.5,1.38,
  1.45,1.35,1.42,1.3,1.4,1.35];
const jSpikeWave = [653.245,653.25,653.255,653.26, 653.315,653.32,653.325,653.33,
  653.415,653.42,653.425,653.43, 653.595,653.6,653.605,653.61,
  653.925,653.93,653.935,653.94, 656.395,656.4,656.405,656.41,
  658.115,658.12,658.125,658.13, 659.015,659.02,659.025,659.03,
  659.545,659.55,659.555,659.56, 659.825,659.83,659.835,659.84,
  659.925,659.93,659.935];
const jSpikeVal = [1.2,2.05,1.2,null, 1.2,2.1,1.2,null,
  1.3,2.45,1.3,null, 1.4,2.6,1.4,null,
  1.6,5.85,1.6,null, 5.0,5.95,5.0,null,
  1.6,4.05,1.6,null, 1.4,2.95,1.4,null,
  1.3,5.6,1.3,null, 1.3,3.95,1.3,null,
  1.2,2.2,1.2];
const jXTicks = [653, 654, 655, 656, 657, 658, 659, 660];
const jYTicks = [0, 1, 2, 3, 4, 5, 6];

// ---- drawing ----
const FONT = "'Liberation Sans', Arial, Helvetica, sans-serif";
const M = { blue: '#0072BD', orange: '#D95319', yellow: '#EDB120', purple: '#7E2F8E',
  green: '#77AC30', cyan: '#4DBEEE', red: '#A2142F' };

function pts(xs, ys) {
  const out = [];
  for (let i = 0; i < xs.length && i < ys.length; i++) out.push({ x: xs[i], y: ys[i] });
  return out;
}

function arrow(ctx, x1, y1, x2, y2) {
  ctx.strokeStyle = '#333'; ctx.fillStyle = '#333'; ctx.lineWidth = 0.9;
  ctx.beginPath(); ctx.moveTo(x1, y1); ctx.lineTo(x2, y2); ctx.stroke();
  const a = Math.atan2(y2 - y1, x2 - x1), L = 8, W = 2.8;
  ctx.beginPath();
  ctx.moveTo(x2, y2);
  ctx.lineTo(x2 - L * Math.cos(a) + W * Math.sin(a), y2 - L * Math.sin(a) - W * Math.cos(a));
  ctx.lineTo(x2 - L * Math.cos(a) - W * Math.sin(a), y2 - L * Math.sin(a) + W * Math.cos(a));
  ctx.closePath(); ctx.fill();
}

function decor(p) {
  return {
    id: 'decor',
    beforeDatasetsDraw(chart) {
      const { ctx, chartArea: a, scales: { x, y } } = chart;
      ctx.save();
      ctx.strokeStyle = '#c4c4c4'; ctx.lineWidth = 1;
      ctx.strokeRect(a.left + 0.5, a.top + 0.5, a.width - 1, a.height - 1);
      ctx.strokeStyle = '#6e6e6e';
      ctx.beginPath();
      x.ticks.forEach(t => {
        const px = Math.round(x.getPixelForValue(t.value)) + 0.5;
        ctx.moveTo(px, a.bottom); ctx.lineTo(px, a.bottom - 6);
        ctx.moveTo(px, a.top); ctx.lineTo(px, a.top + 6);
      });
      y.ticks.forEach(t => {
        const py = Math.round(y.getPixelForValue(t.value)) + 0.5;
        ctx.moveTo(a.left, py); ctx.lineTo(a.left + 6, py);
        ctx.moveTo(a.right, py); ctx.lineTo(a.right - 6, py);
      });
      ctx.stroke();
      ctx.restore();
    },
    afterDraw(chart) {
      const { ctx, scales: { x, y } } = chart;
      ctx.save();
      ctx.fillStyle = '#151515';
      ctx.textBaseline = 'middle';
      ctx.textAlign = 'center';
      ctx.font = 'bold 20px ' + FONT;
      ctx.fillText(p.title, p.titleX, p.titleY);
      ctx.textAlign = 'left';
      ctx.textBaseline = 'alphabetic';
      ctx.font = 'bold 42px ' + FONT;
      ctx.fillText(p.tag, p.tagX, p.tagY);
      ctx.fillStyle = '#333';
      ctx.textBaseline = 'middle';
      ctx.font = '17px ' + FONT;
      ctx.fillText('\u00d710', p.multX, p.multY);
      const w = ctx.measureText('\u00d710').width;
      ctx.font = '12px ' + FONT;
      ctx.fillText(p.multExp, p.multX + w + 1, p.multY - 8);
      ctx.font = 'bold 20px ' + FONT;
      ctx.fillStyle = '#151515';
      p.notes.forEach(n => {
        ctx.fillText(n.text, x.getPixelForValue(n.x), y.getPixelForValue(n.y));
        arrow(ctx, x.getPixelForValue(n.from[0]), y.getPixelForValue(n.from[1]),
          x.getPixelForValue(n.to[0]), y.getPixelForValue(n.to[1]));
      });
      ctx.restore();
    }
  };
}

function panel(id, p) {
  const cv = document.getElementById(id);
  const W = cv.width, H = cv.height, A = p.area;
  return new Chart(cv, {
    type: 'line',
    data: {
      datasets: p.lines.map(l => ({
        data: pts(l[0], l[1]), borderColor: l[2], borderWidth: l[3] || p.lineWidth,
        pointRadius: 0, tension: 0, fill: false, spanGaps: false,
        cubicInterpolationMode: p.smooth ? 'monotone' : 'default'
      }))
    },
    options: {
      responsive: false, animation: false, events: [],
      layout: { padding: { left: 0, top: A.top, right: W - A.right, bottom: 0 } },
      plugins: { legend: { display: false }, tooltip: { enabled: false } },
      scales: {
        x: {
          type: 'linear', min: p.xMin, max: p.xMax,
          afterBuildTicks: s => { s.ticks = p.xTicks.map(v => ({ value: v })); },
          afterFit: s => { s.height = H - A.bottom; },
          grid: { display: false, drawTicks: false, tickLength: 0 }, border: { display: false },
          ticks: { color: '#262626', font: { family: FONT, size: 17, weight: 'bold' },
            padding: 7, maxRotation: 0, autoSkip: false, callback: v => String(v) },
          title: { display: true, text: 'Wavelength (nm)', color: '#1a1a1a',
            font: { family: FONT, size: 20, weight: 'bold', lineHeight: 1.2 },
            padding: { top: 0, bottom: p.xTitlePad } }
        },
        y: {
          type: 'linear', min: 0, max: p.yMax,
          afterBuildTicks: s => { s.ticks = p.yTicks.map(v => ({ value: v })); },
          afterFit: s => { s.width = A.left; },
          grid: { display: false, drawTicks: false, tickLength: 0 }, border: { display: false },
          ticks: { color: '#262626', font: { family: FONT, size: 17, weight: 'bold' },
            padding: 6, autoSkip: false, callback: v => String(v) },
          title: { display: true, text: 'LIBS signal intensity (a.u.)', color: '#1a1a1a',
            font: { family: FONT, size: 20, weight: 'bold', lineHeight: 1.2 },
            padding: { top: p.yTitlePad, bottom: 0 } }
        }
      }
    },
    plugins: [decor(p)]
  });
}

panel('cg', {
  area: { left: 59, top: 53, right: 712, bottom: 364 }, lineWidth: 0.9,
  xMin: 308.7, xMax: 310, yMax: 8, xTicks: gXTicks, yTicks: gYTicks,
  xTitlePad: 13, yTitlePad: 19,
  title: 'Aluminum in DPM', titleX: 385, titleY: 38,
  tag: 'g)', tagX: 677, tagY: 40, multX: 61, multY: 43, multExp: '4',
  notes: [{ text: 'Al I @ 309.27 nm  in DPM', x: 309.474, y: 6.84, from: [309.466, 6.51], to: [309.376, 5.43] }],
  lines: [
    [gWave, gLowE, M.cyan], [gWave, gLowL, M.green], [gWave, gLowC, M.yellow],
    [gWave, gLowJ, M.red], [gWave, gLowA, M.orange], [gWave, gLowH, M.blue],
    [gWave, gLowF, M.red], [gWave, gLowI, M.orange], [gWave, gLowB, M.blue],
    [gWave, gLowG, M.yellow], [gWave, gLowD, M.purple], [gWave, gLowK, '#b4b4b4'],
    [gWave, gMid, '#a0a0a0'], [gWave, gNarrowB, M.green],
    [gWave, gNarrowA, M.yellow], [gWave, gThird, '#8c8c8c'], [gWave, gFourth, '#2a8fc8'],
    [gWave, gSecond, '#8b2a52'], [gWave, gTop, '#3a9fd0']
  ]
});

panel('ch', {
  area: { left: 57, top: 53, right: 752, bottom: 365 }, lineWidth: 0.9, smooth: true,
  xMin: 279, xMax: 280.7, yMax: 4, xTicks: hXTicks, yTicks: hYTicks,
  xTitlePad: 10, yTitlePad: 15,
  title: 'Magnesium in DPM', titleX: 402, titleY: 38,
  tag: 'h)', tagX: 712, tagY: 40, multX: 59, multY: 43, multExp: '5',
  notes: [
    { text: 'Mg II @ 279.55 nm', x: 279.017, y: 3.6, from: [279.474, 3.46], to: [279.523, 3.21] },
    { text: 'Mg II @ 280.27', x: 279.721, y: 3.21, from: [280.081, 3.05], to: [280.222, 2.59] }
  ],
  lines: [
    [hWave, hNarrowBrown, M.red], [hWave, hNarrowYellow, M.yellow], [hWave, hNarrowCyan, M.cyan],
    [hWave, hExtraBlue, M.blue], [hWave, hGreen, M.green], [hWave, hPurple, M.purple],
    [hWave, hBlue, M.blue], [hWave, hExtraCyan, M.cyan], [hWave, hExtraGreen, M.green],
    [hWave, hYellow, M.yellow], [hWave, hOrange, M.orange], [hWave, hGray, '#9a9a9a'],
    [hWave, hCore, M.red, 1.8], [hWave, hSecondBase, '#8b3a62'], [hWave, hHighBase, M.cyan],
    [hSpikeWave, hSpikeVal, M.red]
  ]
});

panel('ci', {
  area: { left: 55, top: 62, right: 713, bottom: 357 }, lineWidth: 1.1,
  xMin: 775, xMax: 779, yMax: 5.92, xTicks: iXTicks, yTicks: iYTicks,
  xTitlePad: 1, yTitlePad: 14,
  title: 'Oxygen in DPM (included air atmosphere)', titleX: 422, titleY: 42,
  tag: 'i)', tagX: 681, tagY: 48, multX: 57, multY: 53, multExp: '4',
  notes: [
    { text: 'O I @ 777.41 nm', x: 777.03, y: 5.56, from: [777.523, 5.34], to: [777.51, 5.18] },
    { text: 'O I @ 777.19 nm', x: 775.298, y: 4.52, from: [776.283, 4.5], to: [777.085, 4.06] },
    { text: 'O I @ 777.53 nm', x: 777.985, y: 3.43, from: [777.965, 3.19], to: [777.807, 2.69] }
  ],
  lines: [
    [iWave, iLowGray, '#a8a8a8'], [iWave, iLowGreen, M.green], [iWave, iLowPurple, M.purple],
    [iWave, iLowOrange, M.orange], [iWave, iPaleYellow, M.yellow], [iWave, iLightBlue, M.cyan],
    [iWave, iBandLowBlue, M.blue], [iWave, iGreen, M.green], [iWave, iBandGreen, M.green],
    [iWave, iYellow, M.yellow], [iWave, iBandCyan, M.cyan], [iWave, iPurple, M.purple],
    [iWave, iCyan, M.cyan], [iWave, iBandYellow, M.yellow], [iWave, iBandBlue, M.blue],
    [iWave, iBlue, M.blue], [iWave, iBandRed, M.red], [iWave, iBandPurple, M.purple],
    [iWave, iDarkRed, M.red], [iWave, iBandOrange, M.orange], [iWave, iRed, M.orange],
    [iSpikeWave, iSpikeVal, M.red]
  ]
});

panel('cj', {
  area: { left: 75, top: 63, right: 729, bottom: 360 }, lineWidth: 1.15,
  xMin: 652.5, xMax: 660, yMax: 6, xTicks: jXTicks, yTicks: jYTicks,
  xTitlePad: 0, yTitlePad: 35,
  title: 'Hydrogen in DPM', titleX: 402, titleY: 47,
  tag: 'j)', tagX: 694, tagY: 48, multX: 77, multY: 53, multExp: '4',
  notes: [{ text: 'H I @ 656.27 nm', x: 652.89, y: 5.15, from: [654.7, 4.92], to: [655.255, 4.12] }],
  lines: [
    [jWave, jGreenBottom, M.green], [jWaveMid, jGrayLow, '#b0b0b0'], [jWave, jPurpleLow, M.purple],
    [jWaveMid, jPaleOrange, M.yellow], [jWave, jGreenLow, M.green], [jWaveMid, jYellowLow, M.yellow],
    [jWaveMid, jBandDarkRed, M.red], [jWave, jBlueCore, M.blue], [jWaveMid, jBandCyan, M.cyan],
    [jWave, jRedCore, M.red], [jWaveMid, jBandYellow, M.yellow], [jWaveMid, jBandPurple, M.purple],
    [jWave, jOrangeCore, M.orange], [jWaveMid, jBandRed, M.red], [jWave, jBandOrange, M.orange],
    [jWaveMid, jBandBlue, M.blue], [jWave, jCyan, M.cyan], [jWave, jYellowTop, M.yellow],
    [jWaveMid, jBandTeal, '#2f8fbf'], [jWaveMid, jPurpleTop, M.purple], [jWave, jBlueTop, M.blue],
    [jSpikeWave, jSpikeVal, M.red]
  ]
});
</script>
</body>
</html>
